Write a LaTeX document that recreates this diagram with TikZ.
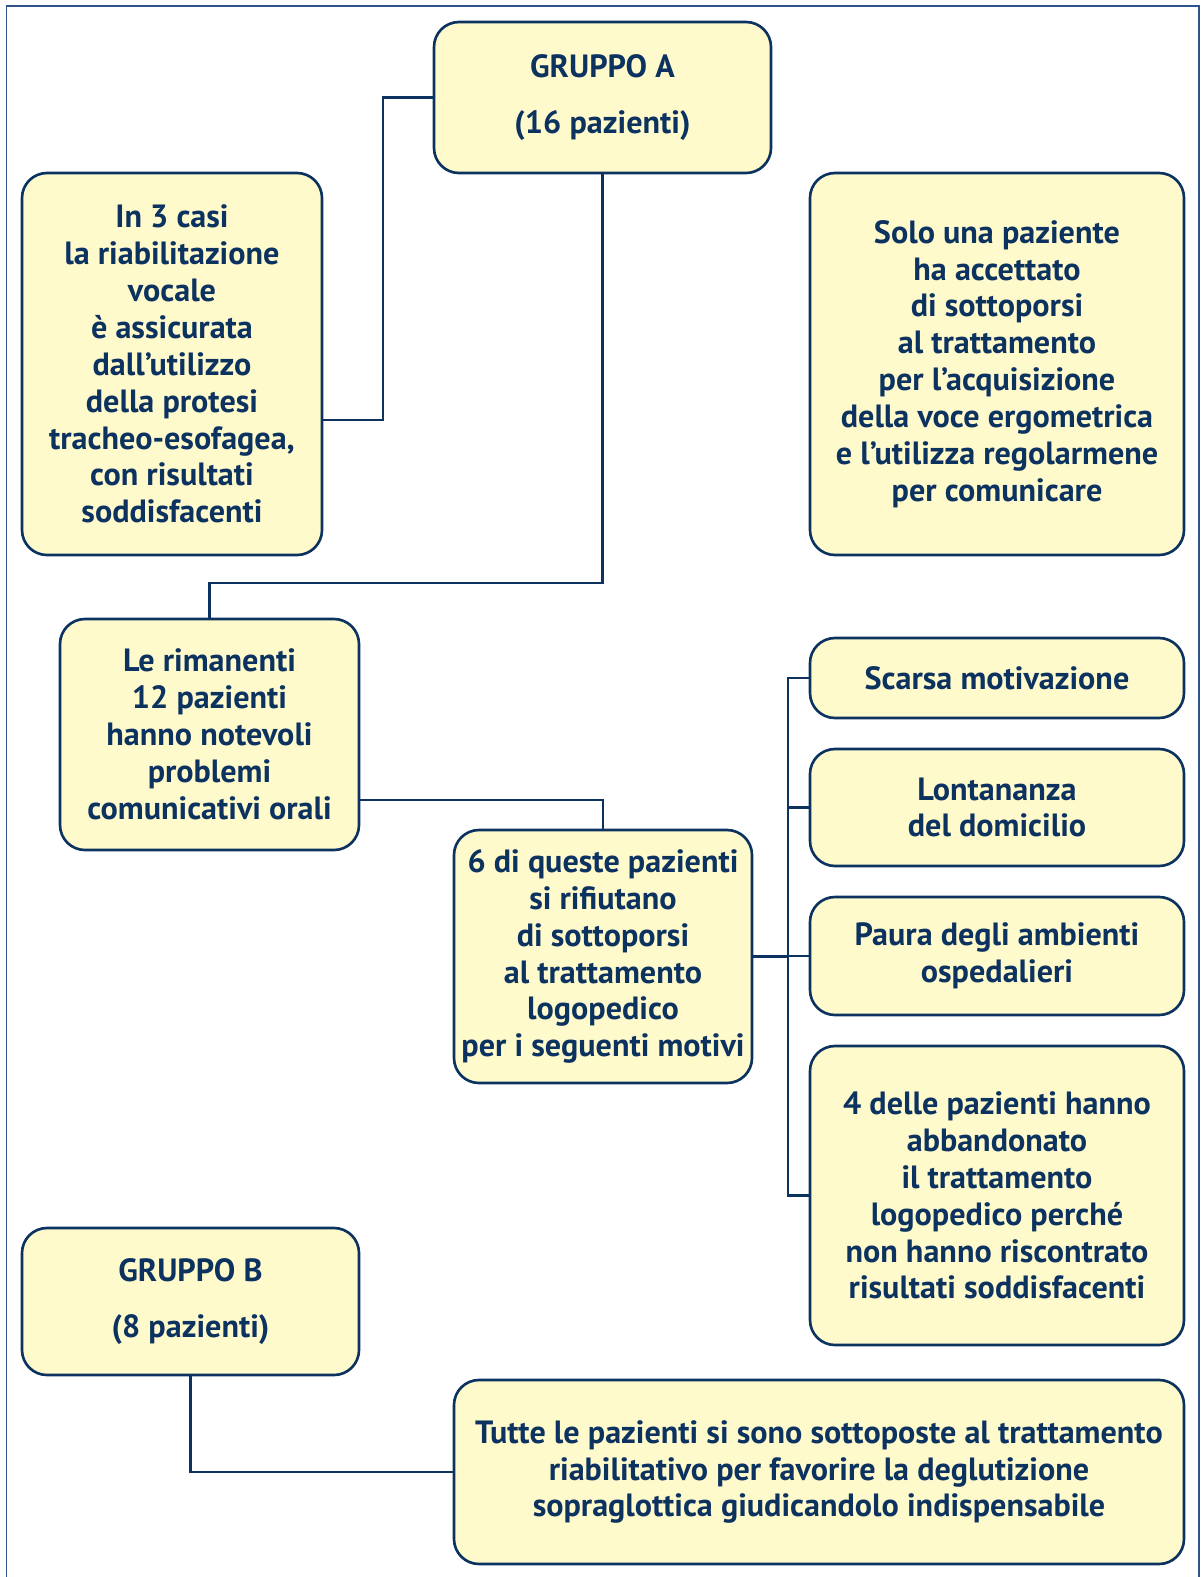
\documentclass[tikz,border=0pt]{standalone}
\usepackage{fontspec}
\setmainfont{PT Sans}
\usepackage{tikz}
\usetikzlibrary{positioning}
\usepackage{xcolor}
\definecolor{navy}{RGB}{12,50,96}
\definecolor{boxfill}{RGB}{255,250,204}
\definecolor{framecol}{RGB}{45,85,140}

\begin{document}
\begin{tikzpicture}[line cap=round,
  box/.style={draw=navy,fill=boxfill,line width=1.5pt,rounded corners=0.5cm,
    align=center,text=navy,inner sep=0pt,
    font=\fontsize{18.3}{21}\selectfont\bfseries},
  link/.style={draw=navy,line width=1.3pt,line cap=rect}]
\useasboundingbox (0,0) rectangle (24.06,-31.54);
\draw[framecol,line width=0.6pt] (0.13,-31.54) -- (0.13,-0.12) -- (23.98,-0.12) -- (23.98,-31.54);
% gruppo A
\node[box,minimum width=6.74cm,minimum height=3.02cm] (ga) at (12.05,-1.95)
  {GRUPPO A\\[11pt](16 pazienti)};
\node[box,minimum width=6.0cm,minimum height=7.64cm] (casi) at (3.44,-7.28)
  {In 3 casi\\la riabilitazione\\vocale\\è assicurata\\dall’utilizzo\\della protesi\\tracheo-esofagea,\\con risultati\\soddisfacenti};
\node[box,minimum width=7.48cm,minimum height=7.64cm] (sola) at (19.94,-7.28)
  {Solo una paziente\\ha accettato\\di sottoporsi\\al trattamento\\per l’acquisizione\\della voce ergometrica\\e l’utilizza regolarmene\\per comunicare};
\node[box,minimum width=5.98cm,minimum height=4.62cm] (rim) at (4.19,-14.69)
  {Le rimanenti\\12 pazienti\\hanno notevoli\\problemi\\comunicativi orali};
\node[box,minimum width=5.96cm,minimum height=5.06cm] (sei) at (12.06,-19.13)
  {6 di queste pazienti\\si rifiutano\\di sottoporsi\\al trattamento\\logopedico\\per i seguenti motivi};
% motivi
\node[box,minimum width=7.48cm,minimum height=1.6cm] (scarsa) at (19.94,-13.56)
  {Scarsa motivazione};
\node[box,minimum width=7.48cm,minimum height=2.34cm] (lont) at (19.94,-16.15)
  {Lontananza\\del domicilio};
\node[box,minimum width=7.48cm,minimum height=2.36cm] (paura) at (19.94,-19.12)
  {Paura degli ambienti\\ospedalieri};
\node[box,minimum width=7.48cm,minimum height=5.98cm] (abb) at (19.94,-23.91)
  {4 delle pazienti hanno\\abbandonato\\il trattamento\\logopedico perché\\non hanno riscontrato\\risultati soddisfacenti};
% gruppo B
\node[box,minimum width=6.74cm,minimum height=2.94cm] (gb) at (3.81,-26.03)
  {GRUPPO B\\[11pt](8 pazienti)};
\node[box,minimum width=14.6cm,minimum height=3.68cm] (tutte) at (16.38,-29.44)
  {Tutte le pazienti si sono sottoposte al trattamento\\riabilitativo per favorire la deglutizione\\sopraglottica giudicandolo indispensabile};
\coordinate (bus) at (15.76,0);
\draw[link] (ga.west) -- ++(-1.0,0) |- ([yshift=-1.12cm]casi.east);
\draw[link] (ga.south) -- ++(0,-8.18) -| (rim.north);
\draw[link] ([yshift=-1.31cm]rim.east) -| (sei.north);
\draw[link] (sei.east) -- (sei.east -| bus);
\draw[link] (scarsa.west) -- (scarsa.west -| bus) -- (abb.west -| bus) -- (abb.west);
\foreach \n in {lont,paura}
  \draw[link] (\n.west) -- (\n.west -| bus);
\draw[link] (gb.south) |- (tutte.west);
\end{tikzpicture}
\end{document}
